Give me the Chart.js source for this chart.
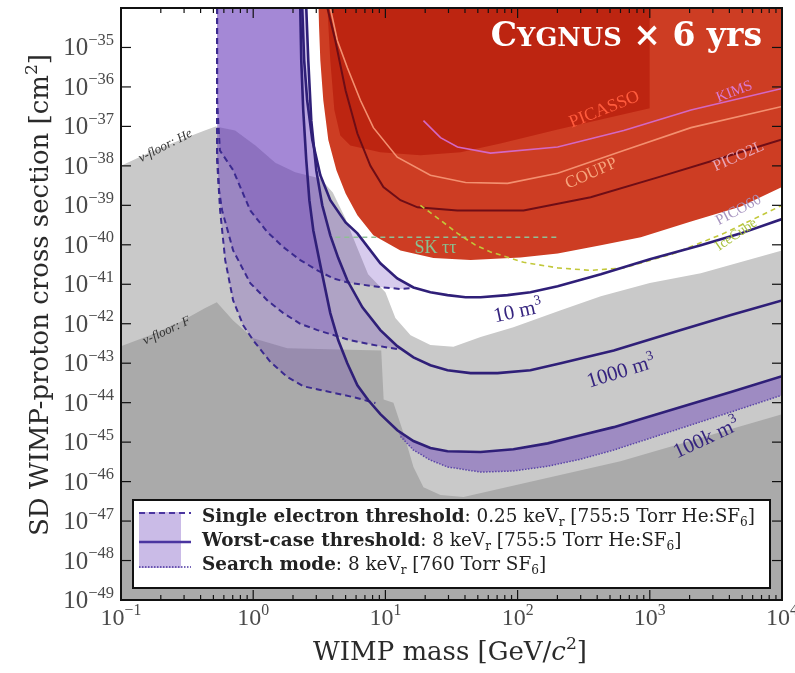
<!DOCTYPE html>
<html lang="en">
<head>
<meta charset="UTF-8">
<title>Cygnus SD WIMP-proton reach</title>
<style>
  body { margin: 0; background: #fff; }
  #wrap { width: 795px; height: 673px; }
</style>
</head>
<body>
<div id="wrap"><canvas id="chart" width="795" height="673"></canvas></div>
<script src="https://cdn.jsdelivr.net/npm/chart.js"></script>
<script>
// all curves: [WIMP mass in GeV/c^2, SD WIMP-proton cross section in cm^2]
const massTicks = [0.1, 1, 10, 100, 1000, 10000];
const sigmaTicks = [1e-49, 1e-48, 1e-47, 1e-46, 1e-45, 1e-44, 1e-43, 1e-42,
                    1e-41, 1e-40, 1e-39, 1e-38, 1e-37, 1e-36, 1e-35];

// neutrino floors
const nuFloorHe = [[0.1,1.0e-38],[0.166,2.2e-38],[0.28,4.5e-38],[0.43,7.9e-38],[0.52,1.0e-37],
  [0.73,7.9e-38],[1.04,3.3e-38],[1.47,1.2e-38],[2.08,6.9e-39],[3.22,4.8e-39],[4.0,2.1e-39],
  [5.0,4.6e-40],[6.1,8.7e-41],[7.4,1.8e-41],[10,6.3e-42],[11.9,1.4e-42],[15.5,5.1e-43],
  [21.9,2.9e-43],[32.7,2.6e-43],[52.5,4.6e-43],[93,8.1e-43],[212,2.2e-42],[426,5.0e-42],
  [1000,1.07e-41],[2430,1.9e-41],[10000,7.2e-41]];
const nuFloorF = [[0.1,2.7e-43],[0.166,5.1e-43],[0.28,1.1e-42],[0.43,2.45e-42],[0.53,3.5e-42],
  [0.705,1.2e-42],[1.0,4.3e-43],[1.81,2.4e-43],[9.3,2.1e-43],[9.7,1.2e-44],[11.5,1.0e-44],
  [13.7,1.7e-45],[16.3,2.35e-46],[19.4,7.2e-47],[26.1,4.6e-47],[39,4.1e-47],[600,3.3e-46],
  [10000,5.1e-45]];

// existing limits
const pico60 = [[3.11,1e-34],[3.22,4.7e-36],[3.39,4.6e-37],[3.70,4.5e-38],[4.26,7.8e-39],
  [5.0,2.0e-39],[6.14,5.6e-40],[8.11,1.74e-40],[13.0,7.2e-41],[23.1,4.6e-41],[44.1,4.1e-41],
  [105,4.8e-41],[201,6.0e-41],[426,9.8e-41],[855,1.55e-40],[2050,3.9e-40],[4890,9.3e-40],
  [10000,2.9e-39]];
const picasso = [[3.64,1e-34],[3.83,4.7e-36],[4.11,2.6e-37],[4.56,5.9e-38],[5.43,3.3e-38],
  [9.16,2.2e-38],[18.4,1.86e-38],[37,2.2e-38],[74,3.7e-38],[201,8.3e-38],[426,1.5e-37],
  [1000,2.9e-37]];
const coupp = [[3.83,1e-34],[4.33,1.5e-35],[5.15,3.1e-36],[6.47,4.6e-37],[8.11,9.3e-38],
  [12.3,1.66e-38],[21.9,5.8e-39],[40.4,3.8e-39],[84,3.6e-39],[201,6.5e-39],[635,2.45e-38],
  [2050,9.3e-38],[10000,3.2e-37]];
const kims = [[19.4,1.4e-37],[26.1,5.2e-38],[35.1,3.0e-38],[62.4,2.1e-38],[201,3.0e-38],
  [635,7.9e-38],[2050,2.6e-37],[10000,9.1e-37]];
const pico2l = [[3.64,1e-34],[4.18,1.5e-35],[5.0,8.1e-37],[6.14,6.6e-38],[7.7,1.0e-38],
  [9.66,2.9e-39],[13,1.35e-39],[17.5,8.9e-40],[35,7.4e-40],[111,7.4e-40],[357,1.6e-39],
  [1150,5.1e-39],[3640,1.66e-38],[10000,4.7e-38]];
const skTauTau = [[4.18,1.55e-40],[201,1.55e-40]];
const iceCube = [[18.4,1.0e-39],[26.1,4.2e-40],[35.1,1.95e-40],[48,9.8e-41],[62.4,6.6e-41],
  [111,3.6e-41],[201,2.6e-41],[357,2.25e-41],[635,2.6e-41],[1520,6.0e-41],[3640,1.95e-40],
  [10000,1.0e-39]];

// Cygnus, 6 years: single electron threshold (0.25 keVr)
const single10 = [[0.533,1e-34],[0.533,4.6e-37],[0.56,2.45e-38],[0.705,7.8e-39],[0.95,7.4e-40],
  [1.28,2.1e-40],[1.69,8.7e-41],[2.27,4.1e-41],[3.06,2.25e-41],[4.04,1.4e-41],[5.43,1.07e-41],
  [9.66,8.3e-42],[13.0,7.6e-42],[16.3,8.0e-42]];
const single1000 = [[0.533,1e-34],[0.533,2.45e-38],[0.552,2.4e-39],[0.582,7.4e-40],[0.705,7.2e-41],
  [0.95,1.07e-41],[1.28,3.9e-42],[1.69,1.86e-42],[2.27,1.0e-42],[3.06,6.9e-43],[5.43,3.8e-43],
  [9.66,2.6e-43],[13.0,2.2e-43]];
const single100k = [[0.533,1e-34],[0.533,1.4e-38],[0.562,7.4e-40],[0.614,4.1e-41],[0.705,3.9e-42],
  [0.84,9.1e-43],[1.0,3.8e-43],[1.35,1.07e-43],[1.81,4.5e-44],[2.39,2.6e-44],[3.22,2.1e-44],
  [5.73,1.38e-44],[8.4,9.8e-45]];

// worst-case threshold (8 keVr)
const worst10 = [[2.35,1e-34],[2.43,4.7e-36],[2.56,4.6e-37],[2.80,4.5e-38],[3.22,5.8e-39],
  [3.83,1.35e-39],[5.0,3.7e-40],[6.14,1.95e-40],[9.16,3.4e-41],[12.3,1.4e-41],[16.3,8.3e-42],
  [21.9,6.3e-42],[29.5,5.3e-42],[40.4,4.7e-42],[52.5,4.7e-42],[84,5.3e-42],[125,6.3e-42],
  [201,8.9e-42],[426,1.8e-41],[1000,4.3e-41],[2430,9.8e-41],[4890,1.95e-40],[10000,4.5e-40]];
const worst1000 = [[2.52,1e-34],[2.61,4.7e-36],[2.75,1.4e-37],[3.0,7.8e-39],[3.33,1.0e-39],
  [3.83,1.74e-40],[4.4,4.6e-41],[5.15,1.26e-41],[6.7,2.6e-42],[9.16,6.9e-43],[12.3,2.7e-43],
  [16.3,1.4e-43],[21.9,8.9e-44],[29.5,6.6e-44],[44.1,5.6e-44],[70.5,5.6e-44],[125,6.6e-44],
  [212,1.0e-43],[534,2.1e-43],[1720,6.9e-43],[4110,1.66e-42],[10000,3.9e-42]];
const worst100k = [[2.27,1e-34],[2.31,4.7e-36],[2.39,2.6e-37],[2.52,1.4e-38],[2.66,1.35e-39],
  [2.85,2.3e-40],[3.28,2.25e-41],[3.83,1.86e-42],[4.4,3.8e-43],[5.15,1.0e-43],[6.14,2.75e-44],
  [7.43,1.15e-44],[9.16,5.1e-45],[12.3,2.0e-45],[16.3,1.07e-45],[21.9,7.1e-46],[29.5,5.9e-46],
  [52.5,5.6e-46],[93,6.6e-46],[169,9.3e-46],[300,1.5e-45],[534,2.4e-45],[1720,7.8e-45],
  [4110,1.86e-44],[10000,4.7e-44]];

// search mode (8 keVr, 760 Torr SF6)
const search100k = [[13.0,1.4e-45],[16.3,6.3e-46],[21.9,3.5e-46],[29.5,2.35e-46],[52.5,1.74e-46],
  [93,1.86e-46],[169,2.45e-46],[300,3.7e-46],[534,6.3e-46],[1720,2.25e-45],[4110,5.8e-45],
  [10000,1.55e-44]];

const SERIF = '"Liberation Serif", "DejaVu Serif", serif';
const WIDE = '"DejaVu Serif", serif';
const BAND = 'rgba(100, 55, 185, 0.26)';
const SEARCH_BAND = 'rgba(100, 55, 185, 0.42)';
const LINE_PURPLE = '#2f1f78';

const pts = arr => arr.map(([x, y]) => ({ x, y }));

// region between the low-threshold curve and the worst-case curve
function band(lowThr, worst) {
  const lastM = lowThr[lowThr.length - 1][0];
  return lowThr.concat(worst.filter(p => p[0] <= lastM).reverse());
}
function searchBand(worst, search) {
  return worst.filter(p => p[0] >= 12).concat(search.slice().reverse());
}

function area(data, color, fill) {
  return { data: pts(data), backgroundColor: color, borderColor: 'transparent', borderWidth: 0, fill };
}
function curve(data, color, width, dash) {
  return { data: pts(data), borderColor: color, borderWidth: width, borderDash: dash || [], fill: false };
}

// listed back to front
const datasets = [
  area(nuFloorHe, '#c9c9c9', 'start'),
  area(nuFloorF, '#aaaaaa', 'start'),
  area(pico60, '#cd3d23', 'end'),
  area(picasso, '#bd2511', 'end'),
  area(band(single10, worst10), BAND, 'shape'),
  area(band(single1000, worst1000), BAND, 'shape'),
  area(band(single100k, worst100k), BAND, 'shape'),
  area(searchBand(worst100k, search100k), SEARCH_BAND, 'shape'),
  curve(coupp, '#f39070', 1.6),
  curve(kims, '#d468c4', 1.6),
  curve(pico2l, '#6e0d16', 2),
  curve(skTauTau, '#8fbf95', 1.6, [5, 4]),
  curve(iceCube, '#c2c83a', 1.6, [5, 4]),
  curve(single10, '#3b2a8f', 2, [6, 4]),
  curve(single1000, '#3b2a8f', 2, [6, 4]),
  curve(single100k, '#3b2a8f', 2, [6, 4]),
  curve(search100k, '#5b46a8', 1.5, [1.5, 1.5]),
  curve(worst10, LINE_PURPLE, 2.6),
  curve(worst1000, LINE_PURPLE, 2.6),
  curve(worst100k, LINE_PURPLE, 2.6)
];
datasets.forEach((d, i) => { d.order = datasets.length - i; });

// ---- text helpers: runs of {t, b (bold), i (italic), s ('sup'|'sub'), sc (small caps)}
function fontFor(r, size, family) {
  const s = r.s ? size * 0.66 : (r.sc ? size * 0.78 : size);
  return (r.i ? 'italic ' : '') + (r.b ? 'bold ' : '') + s.toFixed(1) + 'px ' + family;
}
function runsWidth(ctx, runs, size, family) {
  let w = 0;
  for (const r of runs) { ctx.font = fontFor(r, size, family); w += ctx.measureText(r.t).width; }
  return w;
}
function drawRuns(ctx, runs, x, y, size, family, align) {
  const w = runsWidth(ctx, runs, size, family);
  let cx = align === 'center' ? x - w / 2 : align === 'right' ? x - w : x;
  ctx.textAlign = 'left';
  ctx.textBaseline = 'alphabetic';
  for (const r of runs) {
    ctx.font = fontFor(r, size, family);
    const dy = r.s === 'sup' ? -size * 0.42 : r.s === 'sub' ? size * 0.22 : 0;
    ctx.fillText(r.t, cx, y + dy);
    cx += ctx.measureText(r.t).width;
  }
  return w;
}
function pow10(v) {
  const e = Math.round(Math.log10(v));
  return [{ t: '10' }, { t: (e < 0 ? '\u2212' : '') + Math.abs(e), s: 'sup' }];
}

const plotLabels = [
  { runs: [{ t: 'PICASSO' }], at: [449, 2.9e-37], rot: -22, color: '#ff5b3d', size: 18 },
  { runs: [{ t: 'KIMS' }], at: [4330, 8.1e-37], rot: -21, color: '#da7ad2', size: 15 },
  { runs: [{ t: 'COUPP' }], at: [357, 6.9e-39], rot: -24, color: '#f6a47c', size: 17 },
  { runs: [{ t: 'PICO2L' }], at: [4640, 1.86e-38], rot: -24, color: '#e8a5b6', size: 16 },
  { runs: [{ t: 'PICO60' }], at: [4640, 8.0e-40], rot: -28, color: '#a895c0', size: 15 },
  { runs: [{ t: 'SK \u03c4\u03c4' }], at: [23.9, 8.7e-41], rot: 0, color: '#88c190', size: 18 },
  { runs: [{ t: 'IceCube' }], at: [4460, 1.9e-40], rot: -34, color: '#a9c23e', size: 14 },
  { runs: [{ t: '10 m' }, { t: '3', s: 'sup' }], at: [100, 2.2e-42], rot: -12, color: '#36257f', size: 21 },
  { runs: [{ t: '1000 m' }, { t: '3', s: 'sup' }], at: [603, 6.6e-44], rot: -17, color: '#36257f', size: 21 },
  { runs: [{ t: '100k m' }, { t: '3', s: 'sup' }], at: [2660, 1.35e-45], rot: -25, color: '#36257f', size: 21 },
  { runs: [{ t: '\u03bd-floor: He', i: true }], at: [0.215, 3.4e-38], rot: -27, color: '#333', size: 13 },
  { runs: [{ t: '\u03bd-floor: F', i: true }], at: [0.22, 7.0e-43], rot: -25, color: '#333', size: 13 }
];

const legendRows = [
  [{ t: 'Single electron threshold', b: true }, { t: ': 0.25 keV' }, { t: 'r', s: 'sub' },
   { t: ' [755:5 Torr He:SF' }, { t: '6', s: 'sub' }, { t: ']' }],
  [{ t: 'Worst-case threshold', b: true }, { t: ': 8 keV' }, { t: 'r', s: 'sub' },
   { t: ' [755:5 Torr He:SF' }, { t: '6', s: 'sub' }, { t: ']' }],
  [{ t: 'Search mode', b: true }, { t: ': 8 keV' }, { t: 'r', s: 'sub' },
   { t: ' [760 Torr SF' }, { t: '6', s: 'sub' }, { t: ']' }]
];

const decor = {
  id: 'decor',
  afterDraw(chart) {
    const ctx = chart.ctx;
    const xs = chart.scales.x, ys = chart.scales.y;
    const { left, right, top, bottom } = chart.chartArea;
    ctx.save();

    // labels inside the plot
    for (const l of plotLabels) {
      const px = xs.getPixelForValue(l.at[0]), py = ys.getPixelForValue(l.at[1]);
      ctx.save();
      ctx.translate(px, py);
      ctx.rotate(l.rot * Math.PI / 180);
      ctx.fillStyle = l.color;
      drawRuns(ctx, l.runs, 0, l.size * 0.35, l.size, SERIF, 'center');
      ctx.restore();
    }

    // title
    ctx.fillStyle = '#fff';
    drawRuns(ctx, [{ t: 'C', b: true }, { t: 'YGNUS', b: true, sc: true }, { t: ' \u00d7 6 yrs', b: true }],
      762, 46, 33, WIDE, 'right');

    // ticks
    ctx.strokeStyle = '#111';
    ctx.lineWidth = 1.2;
    const seg = (x1, y1, x2, y2) => { ctx.beginPath(); ctx.moveTo(x1, y1); ctx.lineTo(x2, y2); ctx.stroke(); };
    for (const m of massTicks) {
      for (let k = 1; k <= 9; k++) {
        const v = m * k;
        if (v > 10000) break;
        const px = xs.getPixelForValue(v);
        const len = k === 1 ? 10 : 5;
        seg(px, bottom, px, bottom - len);
        seg(px, top, px, top + len);
      }
    }
    for (const s of sigmaTicks) {
      const py = ys.getPixelForValue(s);
      seg(left, py, left + 10, py);
      seg(right, py, right - 10, py);
    }

    // tick labels
    ctx.fillStyle = '#4a4a4a';
    for (const m of massTicks) {
      drawRuns(ctx, pow10(m), xs.getPixelForValue(m), bottom + 25, 24, SERIF, 'center');
    }
    for (const s of sigmaTicks) {
      drawRuns(ctx, pow10(s), left - 7, ys.getPixelForValue(s) + 8, 25, SERIF, 'right');
    }

    // axis titles
    ctx.fillStyle = '#2a2a2a';
    drawRuns(ctx, [{ t: 'WIMP mass [GeV/' }, { t: 'c', i: true }, { t: '2', s: 'sup' }, { t: ']' }],
      450, 660, 26, WIDE, 'center');
    ctx.save();
    ctx.translate(48, 295);
    ctx.rotate(-Math.PI / 2);
    drawRuns(ctx, [{ t: 'SD WIMP-proton cross section [cm' }, { t: '2', s: 'sup' }, { t: ']' }],
      0, 0, 26, WIDE, 'center');
    ctx.restore();

    // legend
    const lx = 133, ly = 500, lw = 637, lh = 88;
    ctx.fillStyle = '#fff';
    ctx.fillRect(lx, ly, lw, lh);
    ctx.strokeStyle = '#111';
    ctx.lineWidth = 2;
    ctx.strokeRect(lx, ly, lw, lh);
    ctx.fillStyle = 'rgba(100, 55, 185, 0.34)';
    ctx.fillRect(139, 512, 42, 56);
    ctx.strokeStyle = '#4a35a0';
    ctx.lineWidth = 2;
    ctx.setLineDash([6, 4]); seg(139, 513, 191, 513);
    ctx.setLineDash([]); ctx.lineWidth = 2.6; seg(139, 542, 191, 542);
    ctx.lineWidth = 1.5; ctx.setLineDash([1.5, 1.5]); seg(139, 567, 191, 567);
    ctx.setLineDash([]);
    ctx.fillStyle = '#222';
    legendRows.forEach((row, i) => drawRuns(ctx, row, 202, 522 + i * 24, 18.4, WIDE, 'left'));

    // frame
    ctx.strokeStyle = '#111';
    ctx.lineWidth = 2;
    ctx.strokeRect(left, top, right - left, bottom - top);
    ctx.restore();
  }
};

new Chart(document.getElementById('chart').getContext('2d'), {
  type: 'line',
  data: { datasets },
  options: {
    responsive: false,
    animation: false,
    events: [],
    layout: { padding: { left: 121, right: 13, top: 8, bottom: 73 } },
    elements: { point: { radius: 0 }, line: { tension: 0 } },
    scales: {
      x: { type: 'logarithmic', min: 0.1, max: 10000, display: false },
      y: { type: 'logarithmic', min: 1e-49, max: 1e-34, display: false }
    },
    plugins: { legend: { display: false }, tooltip: { enabled: false } }
  },
  plugins: [decor]
});
</script>
</body>
</html>
